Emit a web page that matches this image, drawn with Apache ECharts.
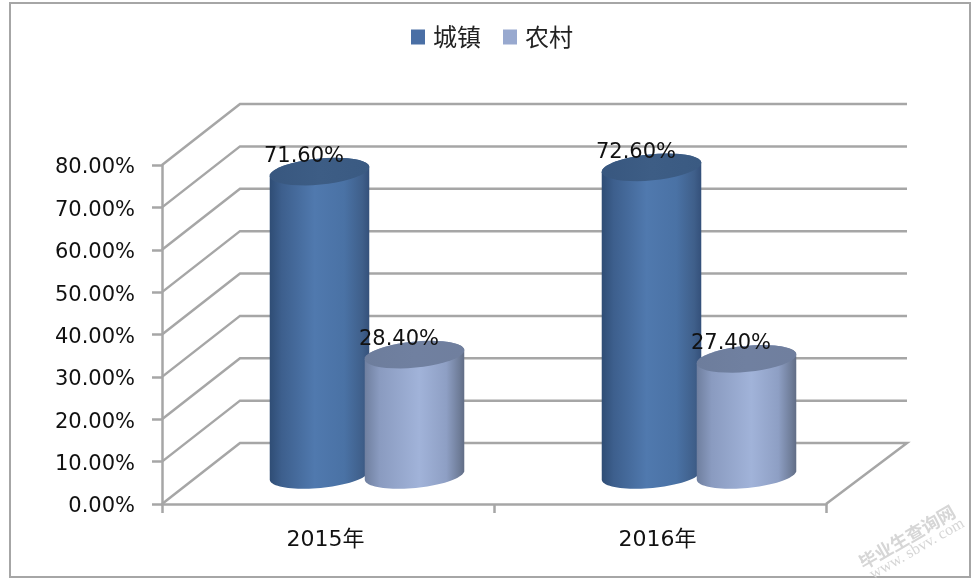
<!DOCTYPE html>
<html><head><meta charset="utf-8">
<style>html,body{margin:0;padding:0;background:#fff}#c{width:976px;height:584px;filter:blur(0.6px)}</style>
<script src="https://cdn.jsdelivr.net/npm/echarts@6/dist/echarts.min.js"></script>
</head><body><div id="c"></div>
<script>
const categories = ['2015年', '2016年'];
const urban = [71.6, 72.6];
const rural = [28.4, 27.4];
const yTicks = [0, 10, 20, 30, 40, 50, 60, 70, 80];
const FONT = '"DejaVu Sans", "Noto Sans CJK SC", sans-serif';
const CJK = '"Noto Sans CJK SC", sans-serif';
const depth = [78, -61], mid = [39, -29];
const rx = 50, ry = 13, tilt = -5.5 * Math.PI / 180, sep = 47.5;
const G = echarts.graphic;
function grad(stops) {
  return new G.LinearGradient(0, 0, 1, 0, stops.map(c => ({ offset: c[0], color: c[1] })));
}
function pts(cx, cy, from, to) {
  const out = [];
  for (let i = 0; i <= 40; i++) {
    const a = from + (to - from) * i / 40;
    out.push([cx + rx * Math.cos(a) * Math.cos(tilt) - ry * Math.sin(a) * Math.sin(tilt),
              cy + rx * Math.cos(a) * Math.sin(tilt) + ry * Math.sin(a) * Math.cos(tilt)]);
  }
  return out;
}
function cylinder(side, bodyFill, topFill) {
  return function (params, api) {
    const b = api.coord([api.value(0), 0]), t = api.coord([api.value(0), api.value(1)]);
    const cx = b[0] + side * sep + mid[0], by = b[1] + mid[1], ty = t[1] + mid[1];
    const body = pts(cx, by, 0, Math.PI).concat(pts(cx, ty, Math.PI, 2 * Math.PI));
    return { type: 'group', children: [
      { type: 'polygon', shape: { points: body }, style: { fill: bodyFill } },
      { type: 'polygon', shape: { points: pts(cx, ty, 0, 2 * Math.PI) }, style: { fill: topFill } },
      { type: 'text', z2: 50, style: { text: api.value(1).toFixed(2) + '%', x: cx - 15.5, y: ty - 15,
        align: 'center', verticalAlign: 'middle', fill: '#111', font: '21px ' + FONT } }
    ] };
  };
}
function walls(params, api) {
  const cs = params.coordSys, y = api.coord([0, api.value(0)])[1];
  const x0 = cs.x, x1 = cs.x + cs.width;
  const line = [[x0, y], [x0 + depth[0], y + depth[1]], [x1 + depth[0] + 3, y + depth[1]]];
  if (api.value(0) === 0) line.push([x1, y]);
  return { type: 'polyline', shape: { points: line }, style: { stroke: '#a6a6a6', lineWidth: 2.5, fill: null } };
}
const axisLine = { color: '#a6a6a6', width: 2.5 };
const chart = echarts.init(document.getElementById('c'), null, { renderer: 'canvas' });
chart.setOption({
  animation: false,
  backgroundColor: '#fff',
  legend: {
    top: 25, left: 411, padding: 0, itemWidth: 14, itemHeight: 15, itemGap: 22,
    icon: 'rect',
    textStyle: { fontFamily: CJK, fontSize: 24, color: '#222', padding: [0, 0, 0, 3] },
    data: [{ name: '城镇', itemStyle: { color: '#4a6fa5' } }, { name: '农村', itemStyle: { color: '#98a9cf' } }]
  },
  grid: { left: 162, right: 150, top: 165, bottom: 80 },
  xAxis: {
    type: 'category', data: categories,
    axisLine: { lineStyle: axisLine },
    axisTick: { show: true, length: 9, lineStyle: axisLine },
    axisLabel: { color: '#111', fontFamily: FONT, fontSize: 22, margin: 25, padding: [0, 5, 0, 0] }
  },
  yAxis: {
    type: 'value', min: 0, max: 80, interval: 10,
    axisLine: { show: true, lineStyle: axisLine },
    axisTick: { show: true, length: 10, lineStyle: axisLine },
    splitLine: { show: false },
    axisLabel: { margin: 27, formatter: v => '{a|' + v.toFixed(2) + '%}',
      rich: { a: { color: '#111', fontFamily: FONT, fontSize: 21, padding: [6, 0, 0, 0] } } }
  },
  series: [
    { type: 'custom', silent: true, z: 1, coordinateSystem: 'cartesian2d', renderItem: walls,
      encode: { y: 0 }, data: yTicks.map(v => [v]) },
    { type: 'custom', name: '城镇', z: 3, renderItem: cylinder(-1,
        grad([[0, '#2f4d75'], [0.12, '#3d5f8d'], [0.45, '#5079ae'], [0.75, '#4a72a5'], [0.93, '#3f5f8a'], [1, '#34507a']]),
        grad([[0, '#38577f'], [0.5, '#3d5d85'], [1, '#3a5a82']])),
      itemStyle: { color: '#4a6fa5' }, encode: { x: 0, y: 1 },
      data: categories.map((c, i) => [i, urban[i]]) },
    { type: 'custom', name: '农村', z: 4, renderItem: cylinder(1,
        grad([[0, '#6f7f9f'], [0.15, '#8a9bc0'], [0.55, '#a1b3d9'], [0.82, '#8e9fc4'], [0.95, '#6f7d99'], [1, '#616d85']]),
        grad([[0, '#6d7d9c'], [0.5, '#7080a0'], [1, '#707f9e']])),
      itemStyle: { color: '#98a9cf' }, encode: { x: 0, y: 1 },
      data: categories.map((c, i) => [i, rural[i]]) }
  ],
  graphic: [
    { type: 'rect', z: -1, shape: { x: 10, y: 3, width: 960, height: 574 }, style: { fill: null, stroke: '#a6a6a6', lineWidth: 2 } },
    { type: 'text', x: 907, y: 537, rotation: 30 * Math.PI / 180, style: { text: '毕业生查询网', align: 'center', verticalAlign: 'middle', fill: '#d6d6d6', font: 'bold 18px "Noto Sans CJK SC", sans-serif' } },
    { type: 'text', x: 917, y: 549, rotation: 30 * Math.PI / 180, style: { text: 'www. sbvv. com', align: 'center', verticalAlign: 'middle', fill: '#d6d6d6', font: '16px "Liberation Serif", serif' } }
  ]
});
</script></body></html>
